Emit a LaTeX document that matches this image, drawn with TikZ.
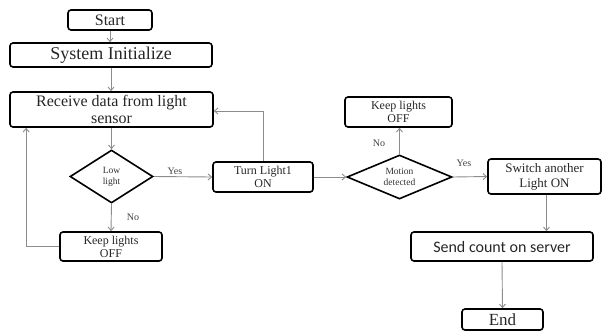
\documentclass[tikz,border=0pt]{standalone}
\usepackage{fontspec}
\setmainfont{Liberation Serif}
\newfontfamily\calib{Carlito}
\usetikzlibrary{arrows.meta,shapes.geometric}
\begin{document}
\begin{tikzpicture}[x=1pt,y=-1pt,
  box/.style={draw=black, line width=1.6pt, rounded corners=3pt, inner sep=0pt,
    align=center, text=black!85},
  dec/.style={draw=black, line width=1.6pt, diamond, aspect=2, inner sep=0pt,
    align=center, text=black!80, font=\fontsize{9.5}{11}\selectfont},
  flow/.style={draw=black!45, line width=0.9pt, -{Straight Barb[length=3.5pt,width=6pt]}},
  lbl/.style={font=\fontsize{10}{12}\selectfont, text=black!75}
]
\useasboundingbox (0,0) rectangle (602,333);

% process boxes
\node[box, minimum width=84pt, minimum height=20pt, font=\fontsize{16}{18}\selectfont]
  (start) at (110,20) {Start};
\node[box, minimum width=202pt, minimum height=24pt, font=\fontsize{18}{20}\selectfont]
  (init) at (111,55) {System Initialize};
\node[box, minimum width=203pt, minimum height=35pt, font=\fontsize{16}{17}\selectfont]
  (recv) at (111.5,109.5) {Receive data from light\\sensor};
\node[dec, minimum width=83pt, minimum height=53pt] (low) at (111.5,176.5) {Low\\light};
\node[box, minimum width=102pt, minimum height=29pt, font=\fontsize{12}{13}\selectfont]
  (keep1) at (111,246.5) {Keep lights\\OFF};
\node[box, minimum width=100pt, minimum height=30pt, font=\fontsize{12}{13}\selectfont]
  (turn) at (263,177) {Turn Light1\\ON};
\node[dec, minimum width=105pt, minimum height=44pt] (motion) at (399.5,177) {Motion\\detected};
\node[box, minimum width=107pt, minimum height=30pt, font=\fontsize{12}{13}\selectfont]
  (keep2) at (398.5,112) {Keep lights\\OFF};
\node[box, minimum width=113pt, minimum height=35pt, font=\fontsize{13}{15}\selectfont]
  (switch) at (544.5,176.5) {Switch another\\Light ON};
\node[box, minimum width=182pt, minimum height=29pt, font=\calib\fontsize{16}{18}\selectfont]
  (send) at (502,246.5) {Send count on server};
\node[box, minimum width=81pt, minimum height=21pt, font=\fontsize{17}{19}\selectfont]
  (end) at (502.5,319.5) {End};

% connectors
\draw[flow] (start.south) -- (start.south |- init.north);
\draw[flow] (init.south) -- (init.south |- recv.north);
\draw[flow] (recv.south) -- (recv.south |- low.north);
\draw[flow] (low.east) -- (turn.west);
\draw[flow] (turn.north) |- ([yshift=-1.5pt]recv.east);
\draw[flow] (low.south) -- (keep1.north);
\draw[flow] (keep1.west) -| ([xshift=17pt]recv.south west);
\draw[flow] (turn.east) -- (motion.west);
\draw[flow] (motion.north) -- (motion.north |- keep2.south);
\draw[flow] (motion.east) -- (switch.west);
\draw[flow] ([xshift=2pt]switch.south) -- ([xshift=2pt]switch.south |- send.north);
\draw[flow] (send.south) -- (end.north);

% branch labels
\node[lbl] (y1) at (175,171) {Yes};
\node[lbl] (n1) at (133,217) {No};
\node[lbl] (n2) at (379,143) {No};
\node[lbl] (y2) at (464,163) {Yes};
\end{tikzpicture}
\end{document}
